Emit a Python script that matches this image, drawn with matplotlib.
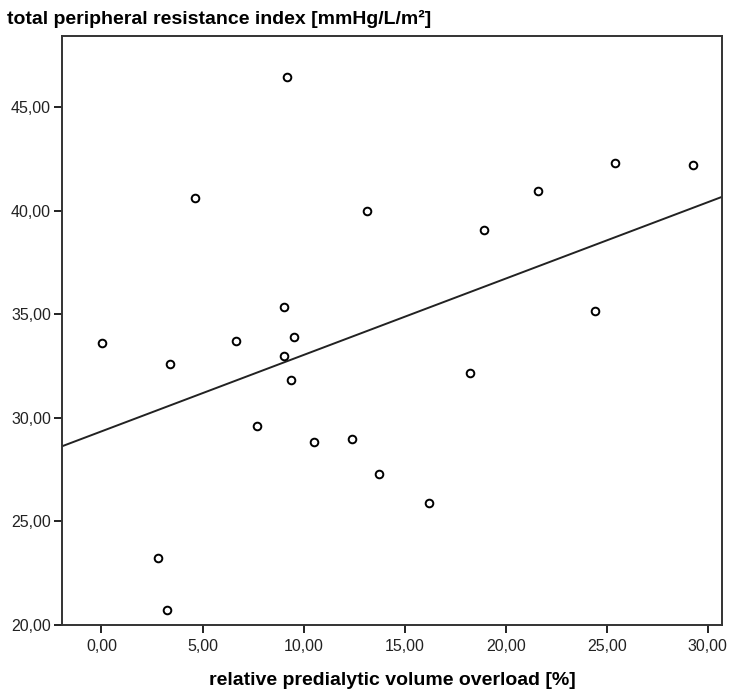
import matplotlib.pyplot as plt
import numpy as np

plt.rcParams['font.family'] = ['Liberation Sans', 'DejaVu Sans']

# relative predialytic volume overload [%]
overload = [0.01, 2.79, 3.24, 3.39, 4.62, 6.65, 7.71, 9.03, 9.04, 9.19, 9.36, 9.55,
            10.51, 12.41, 13.13, 13.72, 16.2, 18.21, 18.92, 21.62, 24.42, 25.43, 29.25]
# total peripheral resistance index [mmHg/L/m2]
tpri = [33.64, 23.22, 20.72, 32.62, 40.64, 33.73, 29.61, 33.0, 35.38, 46.49, 31.84, 33.90,
        28.84, 29.0, 39.98, 27.31, 25.9, 32.19, 39.08, 40.98, 35.17, 42.33, 42.24]

xticks = [0, 5, 10, 15, 20, 25, 30]
yticks = [20, 25, 30, 35, 40, 45]

fig = plt.figure(figsize=(7.3, 6.91), dpi=100)
ax = fig.add_axes([0.085, 0.0955, 0.904, 0.8525])

ax.plot(overload, tpri, 'o', markersize=5.5, markerfacecolor='white',
        markeredgecolor='black', markeredgewidth=1.4, linestyle='none', zorder=3)

xmin, xmax = -1.95, 30.7
slope, intercept = np.polyfit(overload, tpri, 1)
xs = np.array([xmin, xmax])
ax.plot(xs, intercept + slope * xs, color='#222222', linewidth=1.4)

ax.set_xlim(xmin, xmax)
ax.set_ylim(20, 48.45)
ax.set_xticks(xticks)
ax.set_yticks(yticks)
ax.set_xticklabels([f"{v:.2f}".replace('.', ',') for v in xticks])
ax.set_yticklabels([f"{v:.2f}".replace('.', ',') for v in yticks])
ax.tick_params(direction='out', length=6, width=1.4, labelsize=11.5, colors='#222222')
ax.tick_params(axis='x', pad=4)
ax.tick_params(axis='y', pad=2)
for s in ax.spines.values():
    s.set_linewidth(1.4)
    s.set_color('#333333')

ax.set_xlabel('relative predialytic volume overload [%]', fontsize=14, fontweight='bold', labelpad=13)
fig.text(0.01, 0.973, 'total peripheral resistance index [mmHg/L/m²]', fontsize=14,
         fontweight='bold', ha='left', va='center')

plt.savefig('out.png', dpi=100)
